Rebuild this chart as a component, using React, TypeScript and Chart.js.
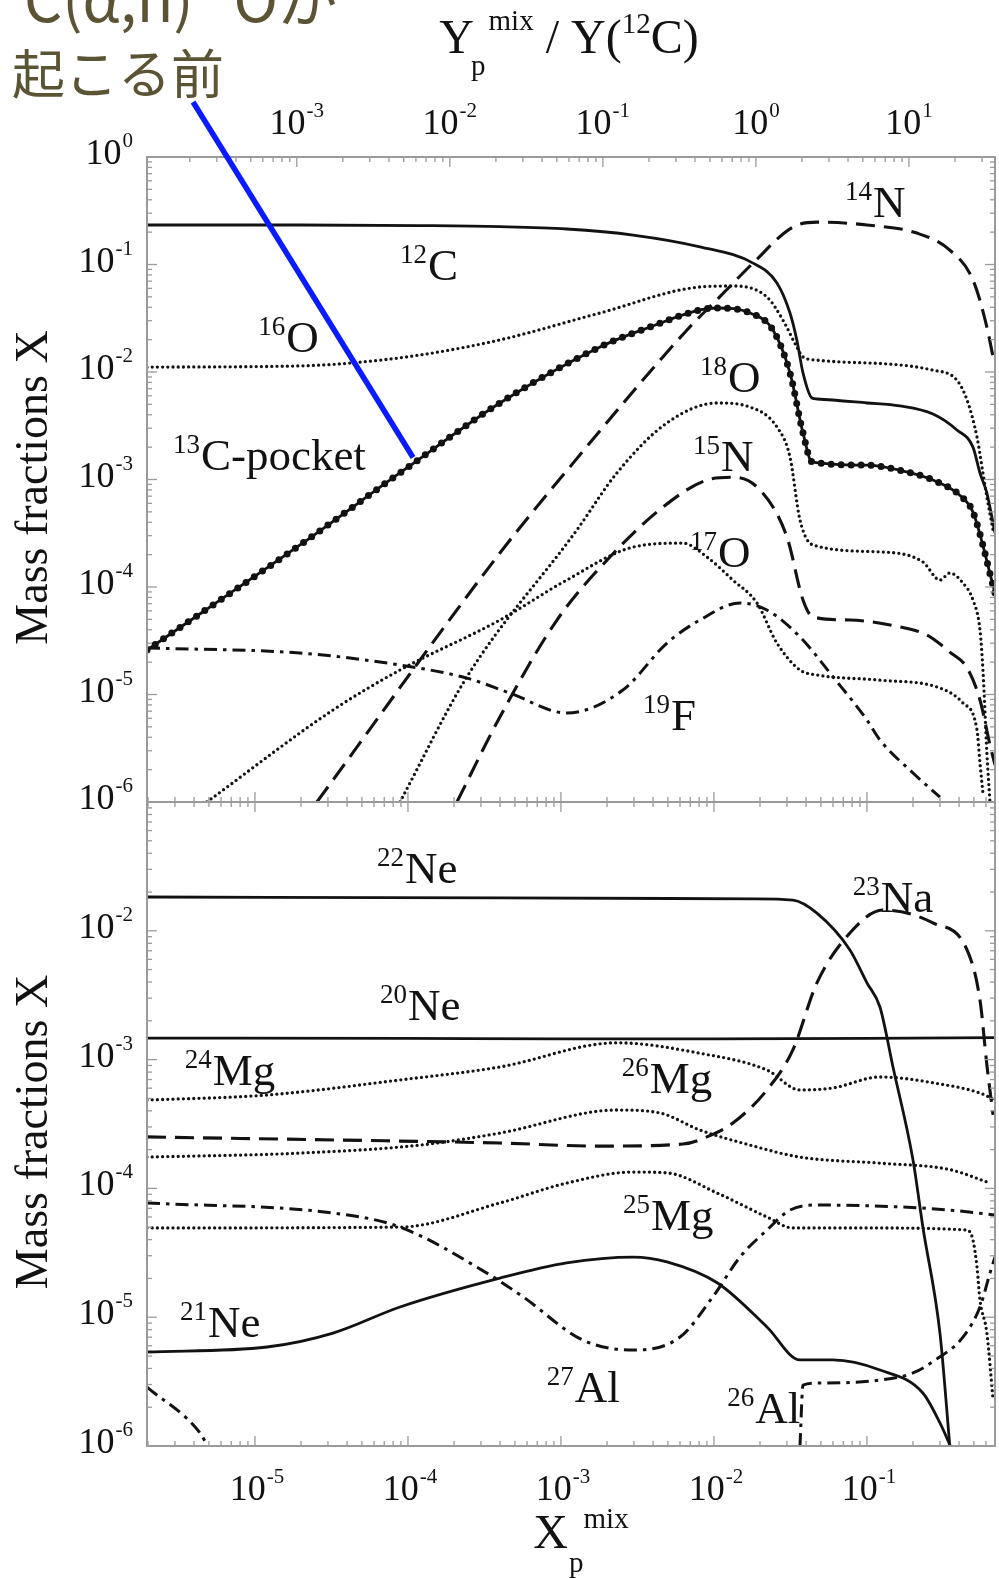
import React, { useEffect, useRef } from 'react';
import { Chart, registerables } from 'chart.js';

Chart.register(...registerables);

// ---------------- axis ranges & tick labels ----------------
const X_MIN = 1.97e-6;
const X_MAX = 0.687;
const RATIO_MIN = 1.05e-4; // Y_p^mix / Y(12C) at left edge
const RATIO_MAX = 36.5;
const TOP_Y_MIN = 1e-6;
const TOP_Y_MAX = 1;
const BOT_Y_MIN = 1e-6;
const BOT_Y_MAX = 1e-1;

const X_TICKS = [1e-5, 1e-4, 1e-3, 1e-2, 1e-1];
const X_TICK_EXP = ['-5', '-4', '-3', '-2', '-1'];
const RATIO_TICKS = [1e-3, 1e-2, 1e-1, 1, 10];
const RATIO_TICK_EXP = ['-3', '-2', '-1', '0', '1'];
const TOP_Y_TICKS = [1, 1e-1, 1e-2, 1e-3, 1e-4, 1e-5, 1e-6];
const TOP_Y_TICK_EXP = ['0', '-1', '-2', '-3', '-4', '-5', '-6'];
const BOT_Y_TICKS = [1e-2, 1e-3, 1e-4, 1e-5, 1e-6];
const BOT_Y_TICK_EXP = ['-2', '-3', '-4', '-5', '-6'];

// ---------------- top panel series ----------------
const C12_X = [1.97e-6, 1.97e-5, 1.2e-4, 3.99e-4, 1.09e-3, 2.96e-3, 8.1e-3, 1.8e-2, 2.58e-2, 3.14e-2, 3.48e-2, 3.82e-2, 4.37e-2, 4.71e-2, 0.1, 0.164, 0.27, 0.387, 0.493, 0.548, 0.608, 0.687];
const C12_Y = [0.233, 0.233, 0.23, 0.225, 0.214, 0.188, 0.146, 0.103, 0.0673, 0.0354, 0.0199, 0.0098, 0.00573, 0.00561, 0.00515, 0.00483, 0.00406, 0.00289, 0.002, 0.00115, 0.000749, 0.000318];

const C13_X = [1.97e-6, 1.97e-5, 9.84e-5, 3.99e-4, 1.8e-3, 3.82e-3, 8.1e-3, 1.05e-2, 1.72e-2, 2.43e-2, 3.14e-2, 3.82e-2, 4.37e-2, 0.1, 0.164, 0.27, 0.424, 0.493, 0.687];
const C13_Y = [2.59e-5, 2.46e-4, 1.28e-3, 5.15e-3, 1.71e-2, 2.62e-2, 3.78e-2, 3.94e-2, 3.54e-2, 2.46e-2, 9.8e-3, 2.71e-3, 1.46e-3, 1.36e-3, 1.22e-3, 9.89e-4, 6.73e-4, 4.99e-4, 8.79e-5];

const O16_X = [1.97e-6, 1.97e-5, 4.18e-5, 1.2e-4, 3.99e-4, 1.8e-3, 8.1e-3, 1.33e-2, 2.22e-2, 2.82e-2, 3.48e-2, 3.82e-2, 4.71e-2, 0.27, 0.387, 0.451, 0.524, 0.573, 0.608, 0.667];
const O16_Y = [1.11e-2, 1.14e-2, 1.21e-2, 1.44e-2, 1.99e-2, 3.54e-2, 6.18e-2, 6.31e-2, 4.99e-2, 3.05e-2, 1.71e-2, 1.38e-2, 1.29e-2, 1.04e-2, 8.4e-3, 5.5e-3, 2.48e-3, 1.15e-3, 6.87e-4, 3.39e-4];

const N14_X = [2.54e-5, 3.99e-4, 1.2e-3, 6.67e-3, 1.09e-2, 1.8e-2, 3.28e-2, 4.71e-2, 0.1, 0.212, 0.348, 0.493, 0.608, 0.667];
const N14_Y = [1e-6, 2.07e-4, 1.42e-3, 2.46e-2, 4.99e-2, 0.103, 0.223, 0.248, 0.233, 0.196, 0.136, 7.18e-2, 2.62e-2, 1.38e-2];

const N15_X = [2.09e-4, 3.99e-4, 9.42e-4, 2.09e-3, 4.65e-3, 9.0e-3, 1.33e-2, 2.0e-2, 3.0e-2, 3.82e-2, 4.44e-2, 7.74e-2, 0.164, 0.247, 0.348, 0.451, 0.548, 0.637, 0.687];
const N15_Y = [1e-6, 6.18e-6, 4.93e-5, 1.9e-4, 5.55e-4, 9.89e-4, 1.05e-3, 7.98e-4, 2.92e-4, 7.57e-5, 5.26e-5, 4.93e-5, 4.25e-5, 3.57e-5, 2.48e-5, 1.77e-5, 8.9e-6, 3.39e-6, 2.21e-6];

const O18_X = [8.87e-5, 2.43e-4, 1.27e-3, 2.32e-3, 4.93e-3, 1.05e-2, 1.72e-2, 2.58e-2, 3.14e-2, 3.65e-2, 4.44e-2, 0.1216, 0.232, 0.3, 0.348, 0.424, 0.493, 0.548, 0.573, 0.608, 0.637];
const O18_Y = [1e-6, 1.46e-5, 3.39e-4, 1.15e-3, 3.36e-3, 5.15e-3, 4.72e-3, 3.08e-3, 1.62e-3, 4.2e-4, 2.46e-4, 2.12e-4, 1.71e-4, 1.16e-4, 1.35e-4, 1.09e-4, 7.57e-5, 3.98e-5, 1.69e-5, 2.86e-6, 1e-6];

const O17_X = [4.85e-6, 3.24e-5, 8.87e-5, 3.99e-4, 1.09e-3, 2.96e-3, 6.27e-3, 9.0e-3, 1.33e-2, 1.91e-2, 2.58e-2, 3.65e-2, 4.71e-2, 0.1216, 0.3, 0.424, 0.524, 0.548, 0.573];
const O17_Y = [1e-6, 7.18e-6, 1.69e-5, 4.93e-5, 1.16e-4, 2.35e-4, 2.56e-4, 1.9e-4, 1.16e-4, 7.1e-5, 3.01e-5, 1.69e-5, 1.52e-5, 1.36e-5, 1.15e-5, 8.34e-6, 4.68e-6, 2.31e-6, 1.21e-6];

const F19_X = [1.97e-6, 1.97e-5, 8.87e-5, 2.43e-4, 4.64e-4, 1.09e-3, 2.54e-3, 4.93e-3, 8.1e-3, 1.48e-2, 2.22e-2, 3.65e-2, 6.0e-2, 0.1, 0.1216, 0.2, 0.3];
const F19_Y = [2.71e-5, 2.43e-5, 1.88e-5, 1.42e-5, 1.03e-5, 6.73e-6, 1.1e-5, 3.01e-5, 4.93e-5, 7.1e-5, 6.11e-5, 3.43e-5, 1.46e-5, 5.79e-6, 3.78e-6, 1.86e-6, 1.11e-6];

// ---------------- bottom panel series ----------------
const NE22_X = [1.97e-6, 3.99e-4, 1.8e-2, 3.28e-2, 4.71e-2, 7.74e-2, 0.1, 0.1216, 0.148, 0.2, 0.232, 0.3, 0.348];
const NE22_Y = [1.83e-2, 1.8e-2, 1.77e-2, 1.73e-2, 1.37e-2, 7.1e-3, 3.94e-3, 2.56e-3, 8.75e-4, 1.66e-4, 5.01e-5, 7.53e-6, 1e-6];

const NE20_X = [1.97e-6, 1e-4, 1e-3, 1e-2, 0.1, 0.687];
const NE20_Y = [1.47e-3, 1.46e-3, 1.45e-3, 1.45e-3, 1.46e-3, 1.48e-3];

const MG24_X = [1.97e-6, 1.2e-5, 8.87e-5, 3.99e-4, 2.32e-3, 8.1e-3, 2.22e-2, 3.65e-2, 6.0e-2, 0.1216, 0.3, 0.548, 0.687];
const MG24_Y = [4.85e-4, 5.31e-4, 6.95e-4, 8.77e-4, 1.35e-3, 1.12e-3, 8.3e-4, 5.81e-4, 6.03e-4, 7.33e-4, 6.47e-4, 5.5e-4, 4.85e-4];

const NA23_X = [1.97e-6, 8.87e-5, 3.99e-4, 1.8e-3, 6.27e-3, 9.0e-3, 1.33e-2, 2.22e-2, 3.28e-2, 4.71e-2, 7.74e-2, 0.127, 0.27, 0.451, 0.548, 0.608, 0.667];
const NA23_Y = [2.51e-4, 2.33e-4, 2.25e-4, 2.13e-4, 2.21e-4, 2.51e-4, 3.22e-4, 5.81e-4, 1.19e-3, 3.94e-3, 9.62e-3, 1.45e-2, 1.15e-2, 7.1e-3, 2.9e-3, 9.08e-4, 3.72e-4];

const MG26_X = [1.97e-6, 1.97e-5, 1.2e-4, 3.99e-4, 2.32e-3, 4.44e-3, 8.1e-3, 1.72e-2, 3.65e-2, 0.1216, 0.348, 0.637];
const MG26_Y = [1.75e-4, 1.88e-4, 2.17e-4, 2.69e-4, 4.06e-4, 3.85e-4, 2.84e-4, 2.17e-4, 1.75e-4, 1.57e-4, 1.4e-4, 1.1e-4];

const MG25_X = [1.97e-6, 8.87e-5, 3.99e-4, 1.09e-3, 2.96e-3, 4.93e-3, 1.05e-2, 2.22e-2, 3.28e-2, 0.1, 0.451, 0.493, 0.524, 0.548, 0.608, 0.667];
const MG25_Y = [4.93e-5, 5.01e-5, 7.71e-5, 1.1e-4, 1.34e-4, 1.32e-4, 9.2e-5, 6.0e-5, 4.93e-5, 4.93e-5, 4.75e-5, 3.98e-5, 2.45e-5, 1.36e-5, 7.53e-6, 2.28e-6];

const AL27_X = [1.97e-6, 3.24e-5, 8.87e-5, 3.28e-4, 5.65e-4, 1.39e-3, 2.96e-3, 6.0e-3, 9.84e-3, 1.48e-2, 2.22e-2, 3.14e-2, 4.71e-2, 0.164, 0.348, 0.687];
const AL27_Y = [7.71e-5, 6.44e-5, 5.01e-5, 2.2e-5, 1.44e-5, 6.65e-6, 5.56e-6, 7.01e-6, 1.44e-5, 2.93e-5, 4.75e-5, 6.79e-5, 7.43e-5, 7.18e-5, 6.79e-5, 6.21e-5];

const NE21_X = [1.97e-6, 1.2e-5, 3.24e-5, 8.87e-5, 3.99e-4, 1.09e-3, 2.96e-3, 4.93e-3, 1.05e-2, 2.22e-2, 3.65e-2, 6.0e-2, 0.1216, 0.232, 0.3, 0.351];
const NE21_Y = [5.37e-6, 5.87e-6, 7.53e-6, 1.2e-5, 2.01e-5, 2.64e-5, 2.93e-5, 2.69e-5, 1.85e-5, 8.4e-6, 4.66e-6, 4.66e-6, 3.89e-6, 2.58e-6, 1.51e-6, 1e-6];

const AL26_X = [1.97e-6, 4.38e-6, 4.9e-6, 1e-3, 3.65e-2, 3.82e-2, 4.71e-2, 0.1216, 0.2, 0.28, 0.424, 0.548, 0.637, 0.687];
const AL26_Y = [2.87e-6, 1.26e-6, 1e-6, null, 1e-6, 2.97e-6, 3.08e-6, 3.25e-6, 3.69e-6, 4.66e-6, 7.01e-6, 1.2e-5, 2.2e-5, 2.93e-5];

// ---------------- isotope labels (data coordinates) ----------------
type Lbl = { sup: string; main: string; x: number; y: number };
const TOP_LABELS: Lbl[] = [
  { sup: '12', main: 'C', x: 8.87e-5, y: 7.18e-2 },
  { sup: '16', main: 'O', x: 1.05e-5, y: 1.53e-2 },
  { sup: '13', main: 'C-pocket', x: 2.91e-6, y: 1.22e-3 },
  { sup: '14', main: 'N', x: 7.18e-2, y: 0.277 },
  { sup: '18', main: 'O', x: 8.1e-3, y: 6.52e-3 },
  { sup: '15', main: 'N', x: 7.29e-3, y: 1.2e-3 },
  { sup: '17', main: 'O', x: 6.97e-3, y: 1.53e-4 },
  { sup: '19', main: 'F', x: 3.44e-3, y: 4.68e-6 },
];
const BOT_LABELS: Lbl[] = [
  { sup: '22', main: 'Ne', x: 6.27e-5, y: 2.35e-2 },
  { sup: '20', main: 'Ne', x: 6.56e-5, y: 2.03e-3 },
  { sup: '24', main: 'Mg', x: 3.48e-6, y: 6.35e-4 },
  { sup: '23', main: 'Na', x: 8.09e-2, y: 1.4e-2 },
  { sup: '26', main: 'Mg', x: 2.5e-3, y: 5.51e-4 },
  { sup: '25', main: 'Mg', x: 2.54e-3, y: 4.75e-5 },
  { sup: '21', main: 'Ne', x: 3.24e-6, y: 7.01e-6 },
  { sup: '27', main: 'Al', x: 8.09e-4, y: 2.2e-6 },
  { sup: '26', main: 'Al', x: 1.22e-2, y: 1.51e-6 },
];

// annotation pointer (data coordinates of top panel)
const POINTER_FROM = { x: 3.94e-6, y: 3.25 };
const POINTER_TO = { x: 1.08e-4, y: 1.6e-3 };

// ---------------- styling ----------------
const W = 999;
const H = 1578;
const INK = '#121212';
const FRAME = '#9a9a9a';
const SERIF = '"Liberation Serif", "Times New Roman", Times, serif';

type StyleKey = 'solid' | 'dot' | 'dash' | 'dashdot' | 'beads';
const STYLES: Record<StyleKey, { width: number; dash: number[]; cap: CanvasLineCap }> = {
  solid: { width: 2.8, dash: [], cap: 'butt' },
  dot: { width: 3.3, dash: [0, 5.2], cap: 'round' },
  dash: { width: 3.1, dash: [19, 9], cap: 'butt' },
  dashdot: { width: 3.0, dash: [13, 6, 3.5, 6], cap: 'butt' },
  beads: { width: 7, dash: [0, 10], cap: 'round' },
};

function ds(label: string, xs: number[], ys: (number | null)[], style: StyleKey, yAxisID = 'y') {
  const st = STYLES[style];
  return {
    label,
    data: xs.map((x, i) => ({ x, y: ys[i] })),
    borderColor: INK,
    backgroundColor: INK,
    borderWidth: st.width,
    borderDash: st.dash,
    borderCapStyle: st.cap,
    pointRadius: 0,
    pointHoverRadius: 0,
    fill: false,
    spanGaps: false,
    cubicInterpolationMode: 'monotone',
    yAxisID,
  };
}

const font = (px: number) => `${px}px ${SERIF}`;
type Seg = { t: string; size: number; dy?: number; dx?: number };

function segWidth(ctx: CanvasRenderingContext2D, segs: Seg[]) {
  let w = 0;
  for (const s of segs) {
    ctx.font = font(s.size);
    w += (s.dx ?? 0) + ctx.measureText(s.t).width;
  }
  return w;
}
function drawSegs(ctx: CanvasRenderingContext2D, segs: Seg[], x: number, y: number, align: 'left' | 'center' | 'right') {
  const w = segWidth(ctx, segs);
  let cx = align === 'left' ? x : align === 'center' ? x - w / 2 : x - w;
  ctx.textAlign = 'left';
  ctx.textBaseline = 'alphabetic';
  for (const s of segs) {
    ctx.font = font(s.size);
    cx += s.dx ?? 0;
    ctx.fillText(s.t, cx, y + (s.dy ?? 0));
    cx += ctx.measureText(s.t).width;
  }
}
const powSegs = (exp: string): Seg[] => [
  { t: '10', size: 36 },
  { t: exp, size: 21, dy: -17, dx: 1 },
];

function logTicks(min: number, max: number) {
  const out: { v: number; major: boolean }[] = [];
  for (let k = Math.floor(Math.log10(min)) - 1; k <= Math.ceil(Math.log10(max)); k++) {
    for (let m = 1; m < 10; m++) {
      const v = m * Math.pow(10, k);
      if (v >= min * 0.9999 && v <= max * 1.0001) out.push({ v, major: m === 1 });
    }
  }
  return out;
}

function line(ctx: CanvasRenderingContext2D, x1: number, y1: number, x2: number, y2: number) {
  ctx.beginPath();
  ctx.moveTo(x1, y1);
  ctx.lineTo(x2, y2);
  ctx.stroke();
}

function drawFrameAndTicks(chart: any, topScaleId: string) {
  const { ctx, chartArea: a, scales } = chart;
  const xs = scales.x;
  const ys = scales.y;
  const xt = scales[topScaleId];
  ctx.save();
  ctx.strokeStyle = FRAME;
  ctx.lineWidth = 1.3;
  for (const t of logTicks(ys.min, ys.max)) {
    const py = ys.getPixelForValue(t.v);
    const len = t.major ? 10 : 5;
    line(ctx, a.left, py, a.left + len, py);
    line(ctx, a.right, py, a.right - len, py);
  }
  for (const t of logTicks(xs.min, xs.max)) {
    const px = xs.getPixelForValue(t.v);
    const len = t.major ? 10 : 5;
    line(ctx, px, a.bottom, px, a.bottom - len);
  }
  for (const t of logTicks(xt.min, xt.max)) {
    const px = xt.getPixelForValue(t.v);
    const len = t.major ? 10 : 5;
    line(ctx, px, a.top, px, a.top + len);
  }
  ctx.lineWidth = 2;
  ctx.strokeRect(a.left, a.top, a.right - a.left, a.bottom - a.top);
  ctx.restore();
}

function drawYTitle(ctx: CanvasRenderingContext2D, a: any) {
  ctx.save();
  ctx.translate(a.left - 100, (a.top + a.bottom) / 2 + 8);
  ctx.rotate(-Math.PI / 2);
  ctx.fillStyle = INK;
  drawSegs(ctx, [{ t: 'Mass fractions X', size: 46 }], 0, 0, 'center');
  ctx.restore();
}

function drawIsotopes(chart: any, labels: Lbl[]) {
  const { ctx, scales } = chart;
  ctx.save();
  ctx.fillStyle = INK;
  for (const l of labels) {
    const px = scales.x.getPixelForValue(l.x);
    const py = scales.y.getPixelForValue(l.y);
    drawSegs(ctx, [
      { t: l.sup, size: 27, dy: -17 },
      { t: l.main, size: 45, dx: 1 },
    ], px, py, 'left');
  }
  ctx.restore();
}

const topDecor = {
  id: 'topDecor',
  afterDraw(chart: any) {
    const { ctx, chartArea: a, scales } = chart;
    drawFrameAndTicks(chart, 'x2');
    ctx.save();
    ctx.fillStyle = INK;
    TOP_Y_TICKS.forEach((v, i) => {
      const py = scales.y.getPixelForValue(v);
      drawSegs(ctx, powSegs(TOP_Y_TICK_EXP[i]), a.left - 14, py + 7, 'right');
    });
    RATIO_TICKS.forEach((v, i) => {
      const px = scales.x2.getPixelForValue(v);
      drawSegs(ctx, powSegs(RATIO_TICK_EXP[i]), px, a.top - 23, 'center');
    });
    drawSegs(ctx, [
      { t: 'Y', size: 48 },
      { t: 'p', size: 29, dy: 22, dx: -3 },
      { t: 'mix', size: 29, dy: -23, dx: 3 },
      { t: ' / Y(', size: 48 },
      { t: '12', size: 29, dy: -20 },
      { t: 'C)', size: 48 },
    ], (a.left + a.right) / 2 - 2, a.top - 104, 'center');
    ctx.restore();
    drawYTitle(ctx, a);
    drawIsotopes(chart, TOP_LABELS);
    // blue pointer from the annotation to the 13C-pocket curve
    ctx.save();
    ctx.strokeStyle = '#0a1cff';
    ctx.lineWidth = 5.5;
    line(ctx,
      scales.x.getPixelForValue(POINTER_FROM.x), scales.y.getPixelForValue(POINTER_FROM.y),
      scales.x.getPixelForValue(POINTER_TO.x), scales.y.getPixelForValue(POINTER_TO.y));
    ctx.restore();
  },
};

const bottomDecor = {
  id: 'bottomDecor',
  afterDraw(chart: any) {
    const { ctx, chartArea: a, scales } = chart;
    drawFrameAndTicks(chart, 'x');
    ctx.save();
    ctx.fillStyle = INK;
    BOT_Y_TICKS.forEach((v, i) => {
      const py = scales.y.getPixelForValue(v);
      drawSegs(ctx, powSegs(BOT_Y_TICK_EXP[i]), a.left - 14, py + 7, 'right');
    });
    X_TICKS.forEach((v, i) => {
      const px = scales.x.getPixelForValue(v);
      drawSegs(ctx, powSegs(X_TICK_EXP[i]), px + 2, a.bottom + 54, 'center');
    });
    drawSegs(ctx, [
      { t: 'X', size: 48 },
      { t: 'p', size: 29, dy: 24, dx: 1 },
      { t: 'mix', size: 29, dy: -20, dx: 0 },
    ], (a.left + a.right) / 2 + 10, a.bottom + 102, 'center');
    ctx.restore();
    drawYTitle(ctx, a);
    drawIsotopes(chart, BOT_LABELS);
  },
};

function baseOptions(padding: any, yMin: number, yMax: number, withRatio: boolean) {
  const scales: any = {
    x: { type: 'logarithmic', min: X_MIN, max: X_MAX, display: false },
    y: { type: 'logarithmic', min: yMin, max: yMax, display: false },
  };
  if (withRatio) scales.x2 = { type: 'logarithmic', position: 'top', min: RATIO_MIN, max: RATIO_MAX, display: false };
  return {
    responsive: false,
    maintainAspectRatio: false,
    animation: false,
    devicePixelRatio: 1,
    events: [],
    layout: { padding },
    scales,
    plugins: { legend: { display: false }, tooltip: { enabled: false }, title: { display: false } },
  };
}

export default function App() {
  const topRef = useRef<HTMLCanvasElement>(null);
  const botRef = useRef<HTMLCanvasElement>(null);

  useEffect(() => {
    const top = new Chart(topRef.current as HTMLCanvasElement, {
      type: 'line',
      data: {
        datasets: [
          ds('12C', C12_X, C12_Y, 'solid'),
          ds('13C-pocket', C13_X, C13_Y, 'solid'),
          ds('13C-pocket steps', C13_X, C13_Y, 'beads'),
          ds('16O', O16_X, O16_Y, 'dot'),
          ds('14N', N14_X, N14_Y, 'dash'),
          ds('15N', N15_X, N15_Y, 'dash'),
          ds('18O', O18_X, O18_Y, 'dot'),
          ds('17O', O17_X, O17_Y, 'dot'),
          ds('19F', F19_X, F19_Y, 'dashdot'),
        ] as any,
      },
      options: baseOptions({ left: 147, right: W - 995, top: 157, bottom: H - 802 }, TOP_Y_MIN, TOP_Y_MAX, true) as any,
      plugins: [topDecor],
    });
    const bottom = new Chart(botRef.current as HTMLCanvasElement, {
      type: 'line',
      data: {
        datasets: [
          ds('22Ne', NE22_X, NE22_Y, 'solid'),
          ds('20Ne', NE20_X, NE20_Y, 'solid'),
          ds('24Mg', MG24_X, MG24_Y, 'dot'),
          ds('23Na', NA23_X, NA23_Y, 'dash'),
          ds('26Mg', MG26_X, MG26_Y, 'dot'),
          ds('25Mg', MG25_X, MG25_Y, 'dot'),
          ds('27Al', AL27_X, AL27_Y, 'dashdot'),
          ds('21Ne', NE21_X, NE21_Y, 'solid'),
          ds('26Al', AL26_X, AL26_Y, 'dashdot'),
        ] as any,
      },
      options: baseOptions({ left: 147, right: W - 995, top: 802, bottom: H - 1446 }, BOT_Y_MIN, BOT_Y_MAX, false) as any,
      plugins: [bottomDecor],
    });
    return () => {
      top.destroy();
      bottom.destroy();
    };
  }, []);

  const jp: React.CSSProperties = {
    position: 'absolute',
    fontFamily: '"Noto Sans CJK JP", "Noto Sans", sans-serif',
    color: '#5a5434',
    whiteSpace: 'nowrap',
  };
  const sup: React.CSSProperties = { fontSize: '0.6em', verticalAlign: '0.6em', lineHeight: 0 };

  return (
    <div style={{ position: 'absolute', left: 0, top: 0, width: W, height: H, overflow: 'hidden', background: '#fff' }}>
      <canvas ref={topRef} width={W} height={H} style={{ position: 'absolute', left: 0, top: 0 }} />
      <canvas ref={botRef} width={W} height={H} style={{ position: 'absolute', left: 0, top: 0 }} />
      <div style={{ ...jp, fontSize: 60, lineHeight: '60px', left: -16, top: -34 }}>
        <span style={sup}>13</span>C(α,n)<span style={sup}>16</span>Oが
      </div>
      <div style={{ ...jp, fontSize: 53, lineHeight: '53px', left: 12, top: 45 }}>起こる前</div>
    </div>
  );
}
